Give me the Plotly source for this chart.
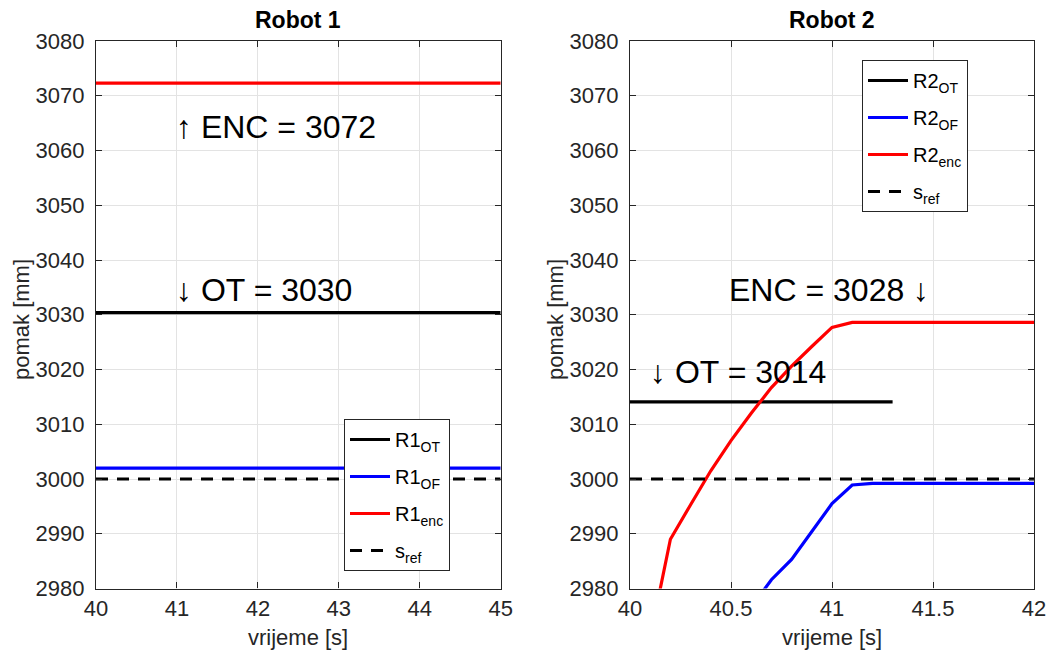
import plotly.graph_objects as go

# ---------------- data ----------------
r1_t = [40, 45]
r1_ot = [3030.4, 3030.4]
r1_of = [3002.0, 3002.0]
r1_enc = [3072.3, 3072.3]
r1_sref = [3000, 3000]

r2_ot_t = [40, 41.3]
r2_ot = [3014.1, 3014.1]
r2_of_t = [40.6, 40.7, 40.8, 40.9, 41.0, 41.1, 41.2, 42.0]
r2_of = [2976.6, 2981.6, 2985.3, 2990.4, 2995.5, 2998.9, 2999.2, 2999.2]
r2_enc_t = [40.1, 40.2, 40.3, 40.4, 40.5, 40.6, 40.7, 40.8, 40.9, 41.0, 41.1, 42.0]
r2_enc = [2971.0, 2989.0, 2995.3, 3001.5, 3007.0, 3012.0, 3016.7, 3020.6, 3024.2, 3027.7, 3028.6, 3028.6]
r2_sref_t = [40, 42]
r2_sref = [3000, 3000]

FONT = "Liberation Sans, Arial, Helvetica, sans-serif"
AX = "#262626"
W = 1046
H = 652

fig = go.Figure()

def add(x, y, name, color, xa, ya, legend, dash="solid"):
    fig.add_trace(go.Scatter(
        x=x, y=y, mode="lines", name=name, legendgroup=name + xa,
        line=dict(color=color, width=3.2, dash=dash),
        xaxis=xa, yaxis=ya, legend=legend))

DASH = "12px,9px"
add(r1_t, r1_ot, "R1<sub>OT</sub>", "#000000", "x", "y", "legend")
add(r1_t, r1_of, "R1<sub>OF</sub>", "#0000ff", "x", "y", "legend")
add(r1_t, r1_enc, "R1<sub>enc</sub>", "#ff0000", "x", "y", "legend")
add(r1_t, r1_sref, "s<sub>ref</sub>", "#000000", "x", "y", "legend", DASH)

add(r2_ot_t, r2_ot, "R2<sub>OT</sub>", "#000000", "x2", "y2", "legend2")
add(r2_of_t, r2_of, "R2<sub>OF</sub>", "#0000ff", "x2", "y2", "legend2")
add(r2_enc_t, r2_enc, "R2<sub>enc</sub>", "#ff0000", "x2", "y2", "legend2")
add(r2_sref_t, r2_sref, "s<sub>ref</sub>", "#000000", "x2", "y2", "legend2", DASH)

top = 1 - 41 / H
bot = 1 - 588.5 / H

axis_common = dict(
    showline=True, linecolor=AX, linewidth=1.3, mirror="ticks",
    ticks="inside", ticklen=6, tickcolor=AX, tickwidth=1.3,
    showgrid=True, gridcolor="#e3e3e3", gridwidth=1, zeroline=False,
    tickfont=dict(family=FONT, size=22, color=AX), fixedrange=True,
    automargin=False, ticklabeloverflow="allow",
)

legend_common = dict(
    xanchor="left", yanchor="top",
    bgcolor="white", bordercolor=AX, borderwidth=1,
    font=dict(family=FONT, size=20, color="#000000"),
    tracegroupgap=8, itemwidth=40,
)

fig.update_layout(
    width=W, height=H,
    margin=dict(l=0, r=0, t=0, b=0, autoexpand=False),
    paper_bgcolor="white", plot_bgcolor="white",
    showlegend=True,
    xaxis=dict(domain=[96 / W, 500.7 / W], range=[40, 45], dtick=1, anchor="y", **axis_common),
    yaxis=dict(domain=[bot, top], range=[2980, 3080], dtick=10, anchor="x",
               ticklabelstandoff=6, **axis_common),
    xaxis2=dict(domain=[630 / W, 1034 / W], range=[40, 42], dtick=0.5, anchor="y2", **axis_common),
    yaxis2=dict(domain=[bot, top], range=[2980, 3080], dtick=10, anchor="x2",
                ticklabelstandoff=6, **axis_common),
    legend=dict(x=344 / W, y=1 - 419 / H, **legend_common),
    legend2=dict(x=862 / W, y=1 - 60 / H, **legend_common),
)

ann = []
# subplot titles
for xc, txt in [(298, "Robot 1"), (832, "Robot 2")]:
    ann.append(dict(x=xc / W, y=1 - 20 / H, xref="paper", yref="paper", text=f"<b>{txt}</b>",
                    showarrow=False, xanchor="center", yanchor="middle",
                    font=dict(family=FONT, size=23, color="#000000")))
# axis titles
for xc in [21, 555]:
    ann.append(dict(x=xc / W, y=1 - 320 / H, xref="paper", yref="paper", text="pomak [mm]",
                    textangle=-90, showarrow=False, xanchor="center", yanchor="middle",
                    font=dict(family=FONT, size=22, color=AX)))
for xc in [298, 832]:
    ann.append(dict(x=xc / W, y=1 - 637 / H, xref="paper", yref="paper", text="vrijeme [s]",
                    showarrow=False, xanchor="center", yanchor="middle",
                    font=dict(family=FONT, size=22, color=AX)))
# value annotations
for x, y, txt, xr, yr in [
    (40.96, 3064.3, "↑ ENC = 3072", "x", "y"),
    (40.96, 3034.5, "↓ OT = 3030", "x", "y"),
    (40.48, 3034.5, "ENC = 3028 ↓", "x2", "y2"),
    (40.09, 3019.5, "↓ OT = 3014", "x2", "y2"),
]:
    ann.append(dict(x=x, y=y, xref=xr, yref=yr, text=txt, showarrow=False,
                    xanchor="left", yanchor="middle",
                    font=dict(family=FONT, size=32, color="#000000")))

fig.update_layout(annotations=ann)

fig.write_html("out.html",
               config={"displayModeBar": False},
               post_script="document.body.style.margin='0px';document.body.style.padding='0px';")
